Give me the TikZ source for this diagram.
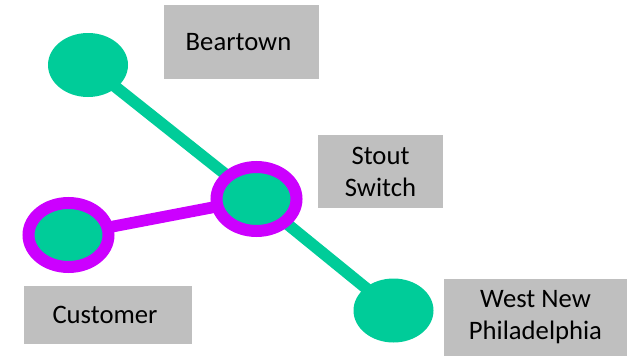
\documentclass[tikz,border=0pt]{standalone}
\usepackage{fontspec}
\setmainfont{Carlito}
\usetikzlibrary{shapes.geometric, backgrounds}
\definecolor{linegreen}{HTML}{00CC99}
\definecolor{switchpurple}{HTML}{CC00FF}
\definecolor{boxgray}{HTML}{BFBFBF}

\begin{document}
\begin{tikzpicture}[
        x=0.75pt,
        y=-0.75pt,
        stop/.style={
            ellipse,
            fill=linegreen,
            minimum width=60pt,
            minimum height=48pt,
            inner sep=0pt
        },
        switchstop/.style={
            stop,
            draw=switchpurple,
            line width=9pt
        },
        namebox/.style={
            fill=boxgray,
            align=center,
            inner sep=0pt,
            font=\fontsize{20}{24}\selectfont
        },
        mainline/.style={
            linegreen,
            line width=8.75pt
        },
        spurline/.style={
            switchpurple,
            line width=8.75pt
        }
    ]

        \useasboundingbox (0,0) rectangle (628,357);

        % ---------------------------------------------------------------------
        % Stops
        % ---------------------------------------------------------------------

        \node[stop] (beartown) at (88,65) {};

        \node[switchstop] (stout) at (256.5,199) {};

        \node[switchstop] (customer) at (68.5,235) {};

        \node[stop] (westnew) at (393.5,310.5) {};

        % ---------------------------------------------------------------------
        % Track between the stops
        % ---------------------------------------------------------------------

        \begin{scope}[on background layer]
            \draw[mainline] (beartown.center) -- (stout.center) -- (westnew.center);
            \draw[spurline] (customer.center) -- (stout.center);
        \end{scope}

        % ---------------------------------------------------------------------
        % Name boxes
        % ---------------------------------------------------------------------

        \node[
            namebox,
            minimum width=116.25pt,
            minimum height=55.5pt
        ] (beartownname) at (241.5,42) {
            Beartown
        };

        \node[
            namebox,
            minimum width=93.75pt,
            minimum height=54.75pt
        ] (stoutname) at (380.5,171.5) {
            Stout\\
            Switch
        };

        \node[
            namebox,
            minimum width=126pt,
            minimum height=43.5pt
        ] (customername) at (108,315) {
            Customer
        };

        \node[
            namebox,
            minimum width=137.25pt,
            minimum height=57.75pt
        ] (westnewname) at (535.5,317.5) {
            West New\\
            Philadelphia
        };

    \end{tikzpicture}
\end{document}
